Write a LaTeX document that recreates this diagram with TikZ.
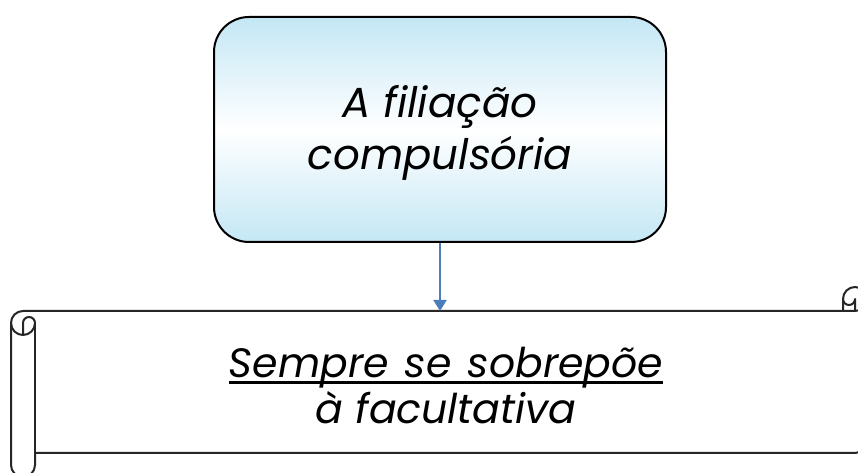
\documentclass[tikz,border=0pt]{standalone}
\usepackage{fontspec}
\setmainfont{Poppins}
\usetikzlibrary{arrows.meta}
\definecolor{boxblue}{RGB}{196,231,245}
\definecolor{arrowblue}{RGB}{74,126,187}
\newcommand\ulx[1]{\setbox0\hbox{#1}\rlap{\rule[-6pt]{\wd0}{2.8pt}}\box0}
\newcommand\widesp{\spaceskip=16pt\relax}
\tikzset{
  titlebox/.style={draw=black, line width=2pt, rounded corners=35pt,
    top color=boxblue, bottom color=boxblue, middle color=white,
    minimum width=452pt, minimum height=225pt, inner sep=0pt},
  scrollline/.style={draw=black!85, line width=2pt, line join=round},
  bigtext/.style={font=\fontsize{42}{52}\selectfont\itshape, align=center, inner sep=0pt},
  smalltext/.style={font=\fontsize{41}{46}\selectfont\itshape, align=center, inner sep=0pt},
  flowarrow/.style={draw=arrowblue, line width=2pt, -{Triangle[width=13pt,length=11pt]}}
}
\begin{document}
\begin{tikzpicture}[x=1pt,y=1pt]
\useasboundingbox (0,0) rectangle (858,473);
\clip (0,0) rectangle (858,473);
% scroll shape
\path[scrollline, fill=white]
  (11,150) arc[start angle=180, end angle=90, radius=12]
  -- (843,162) -- (843,174) arc[start angle=180, end angle=0, radius=12]
  -- (867,32) arc[start angle=0, end angle=-90, radius=12]
  -- (35,20) -- (35,8) arc[start angle=0, end angle=-180, radius=12]
  -- cycle;
\path[scrollline]
  (843,162) -- (855,162) arc[start angle=-90, end angle=0, radius=12];
\path[scrollline]
  (855,162) -- (855,174) arc[start angle=0, end angle=-180, radius=6];
\path[scrollline]
  (23,138) -- (23,150) arc[start angle=180, end angle=0, radius=6]
  arc[start angle=0, end angle=-180, radius=12];
\path[scrollline] (35,150) -- (35,20);
\coordinate (scrolltop) at (440,162);
\node[smalltext] (scrolltext) at (446,87) {\widesp\ulx{Sempre se sobrepõe}\\à facultativa};
% title box
\node[titlebox] (title) at (440,343.5) {};
\node[bigtext] (titletext) at (440,340) {A filiação\\compulsória};
\draw[flowarrow] (title.south) -- (scrolltop);
\end{tikzpicture}
\end{document}
